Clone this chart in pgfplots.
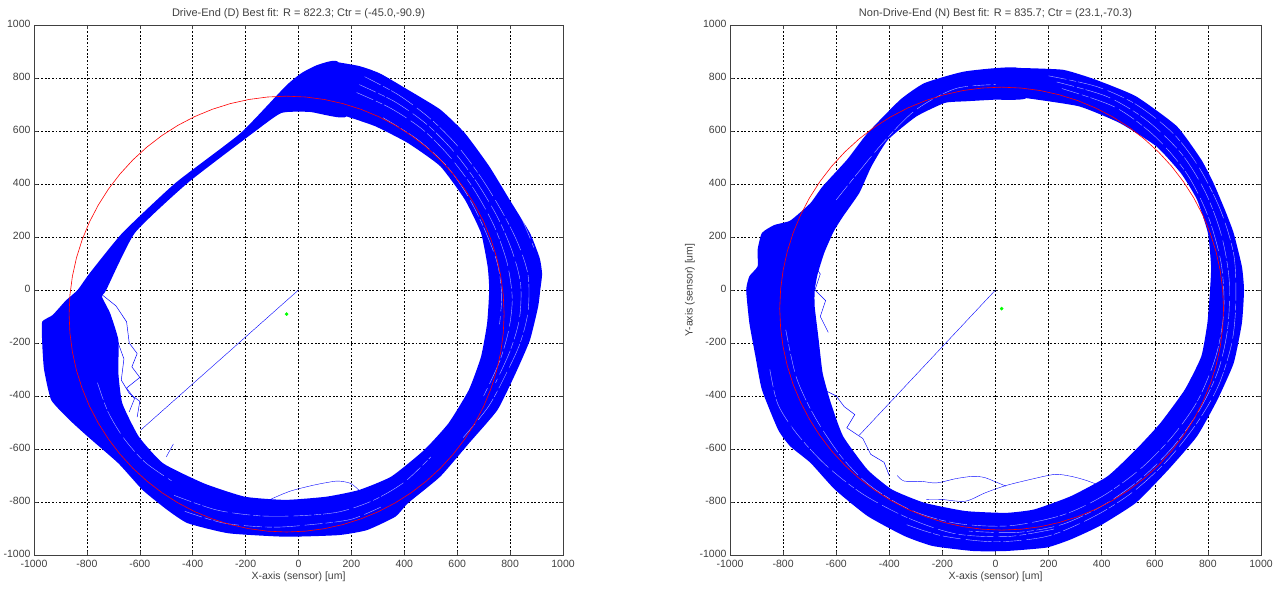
\documentclass[border=0pt]{standalone}
\usepackage{pgfplots}
\pgfplotsset{compat=1.18}
\usepackage{fontspec}
\setmainfont{Liberation Sans}

\definecolor{mblue}{RGB}{0,0,255}
\definecolor{mred}{RGB}{255,0,0}
\definecolor{mgreen}{RGB}{0,255,0}
\definecolor{mgray}{RGB}{64,64,64}

\pgfplotsset{
  orbit/.style={
    scale only axis,
    width=529pt, height=530pt,
    xmin=-1000, xmax=1000, ymin=-1000, ymax=1000,
    xtick={-1000,-800,...,1000}, ytick={-1000,-800,...,1000},
    tick align=inside, major tick length=4pt,
    tick style={mgray, line width=0.5pt},
    axis line style={mgray, line width=0.8pt},
    grid=major,
    major grid style={black, line width=0.5pt, dash pattern=on 1.8pt off 1.8pt},
    /pgf/number format/assume math mode=true,
    /pgf/number format/set thousands separator={},
    ticklabel style={font=\fontsize{10.5}{12}\selectfont, text=mgray},
    xticklabel style={yshift=-1.5pt},
    yticklabel style={yshift=1pt},
    label style={font=\fontsize{10.5}{12}\selectfont, text=mgray},
    title style={font=\fontsize{11}{13}\selectfont, text=mgray, yshift=-3pt},
    xlabel={X-axis (sensor) [um]},
    xlabel style={yshift=2pt},
  },
  band/.style={draw=none, fill=mblue, smooth, tension=0.3},
  streak/.style={white, opacity=0.7, line width=0.4pt, smooth,
    dash pattern=on 18pt off 3pt on 7pt off 2pt on 26pt off 5pt},
  trace/.style={mblue, line width=0.5pt},
  fit/.style={mred, line width=0.6pt},
}

\begin{document}
\begin{tikzpicture}
\path (0,0) rectangle (1277pt,592pt);

% ---------- Drive-End ----------
\begin{axis}[orbit, at={(34pt,37pt)}, anchor=south west,
  title={Drive-End (D) Best fit: R = 822.3; Ctr = (-45.0,-90.9)}]
% orbit band: outer edge clockwise, inner edge counter-clockwise
\addplot[band] coordinates {
 (151,859) (230,845) (305,819) (413,756) (536,681) (629,592) (721,467) (798,341)
 (875,215) (912,120) (921,60) (914,0) (906,-63) (875,-189) (821,-314) (752,-453)
 (644,-579) (536,-704) (413,-805) (367,-855) (259,-906) (151,-925) (-49,-931)
 (-265,-918) (-419,-880) (-496,-830) (-589,-755) (-681,-654) (-797,-553) (-866,-490)
 (-935,-415) (-962,-300) (-969,-200) (-969,-120) (-930,-95) (-880,-40) (-835,0)
 (-789,64) (-666,215) (-465,404) (-219,592) (-49,769) (12,819) (74,850) (151,859)
 (182,655) (43,672) (-65,668) (-173,592) (-419,404) (-619,215) (-727,0) (-743,-25)
 (-712,-88) (-681,-189) (-681,-314) (-666,-428) (-604,-553) (-512,-654) (-357,-730)
 (-203,-780) (-49,-792) (105,-780) (228,-755) (351,-704) (475,-604) (567,-503)
 (644,-377) (690,-252) (713,-126) (721,0) (715,89) (690,215) (629,341) (536,467)
 (413,555) (290,618) (182,655)
};
% gaps between the individual revolutions
\addplot[streak] coordinates {
 (250,805) (380,735) (500,645) (600,545) (690,425) (770,295) (830,175) (868,55)
 (868,-80) (838,-200) (788,-310) (718,-440) (620,-560)
};
\addplot[streak] coordinates {
 (230,775) (365,710) (485,625) (585,525) (675,405) (755,270) (810,140) (840,20)
 (835,-110) (800,-230) (745,-350)
};
\addplot[streak] coordinates {
 (220,745) (350,685) (470,605) (570,505) (660,385) (738,245) (788,105) (808,-30)
 (795,-150) (760,-270) (700,-400)
};
\addplot[streak] coordinates {
 (320,650) (450,568) (560,468) (640,355) (702,232) (752,100) (768,-20) (760,-130)
};
\addplot[streak] coordinates {
 (280,830) (420,770) (560,680) (660,570) (750,440) (830,300) (890,160)
};
\addplot[streak] coordinates {
 (-430,-835) (-280,-880) (-100,-895) (50,-885) (200,-865) (320,-815)
};
\addplot[streak] coordinates {
 (-470,-775) (-310,-830) (-150,-852) (0,-852) (150,-838) (280,-795) (400,-725) (500,-630)
};
\addplot[streak] coordinates {
 (-760,-350) (-720,-460) (-660,-560) (-580,-650) (-480,-720)
};
% loose wisps on the inner edge
\addplot[trace] coordinates {
 (-740,-20) (-690,-60) (-650,-120) (-640,-200) (-610,-240) (-630,-290) (-600,-330)
 (-650,-370) (-620,-410) (-640,-460)
};
\addplot[trace] coordinates {
 (-700,-150) (-660,-260) (-670,-340) (-640,-390) (-600,-420) (-610,-480)
};
% stray transients
\addplot[trace, line width=0.4pt] coordinates {(0,0) (-596,-528)};
\addplot[trace, line width=0.4pt] coordinates {(-500,-630) (-473,-581)};
\addplot[trace, line width=0.4pt, smooth] coordinates {
 (-126,-799) (-60,-770) (-18,-755) (50,-738) (105,-727) (151,-721) (197,-730) (228,-755)
};
% best-fit circle
\addplot[fit] coordinates {
 (777.3,-90.9) (774.2,-19.2) (764.8,51.9) (749.3,121.9) (727.7,190.3) (700.3,256.6)
 (667.1,320.3) (628.6,380.8) (584.9,437.7) (536.5,490.6) (483.6,539.0) (426.7,582.7)
 (366.2,621.2) (302.5,654.4) (236.2,681.8) (167.8,703.4) (97.8,718.9) (26.7,728.3)
 (-45,731.4) (-116.7,728.3) (-187.8,718.9) (-257.8,703.4) (-326.2,681.8) (-392.5,654.4)
 (-456.2,621.2) (-516.7,582.7) (-573.6,539.0) (-626.5,490.6) (-674.9,437.7) (-718.6,380.8)
 (-757.1,320.3) (-790.3,256.6) (-817.7,190.3) (-839.3,121.9) (-854.8,51.9) (-864.2,-19.2)
 (-867.3,-90.9) (-864.2,-162.6) (-854.8,-233.7) (-839.3,-303.7) (-817.7,-372.1)
 (-790.3,-438.4) (-757.1,-502.1) (-718.6,-562.6) (-674.9,-619.5) (-626.5,-672.4)
 (-573.6,-720.8) (-516.7,-764.5) (-456.2,-803.0) (-392.5,-836.2) (-326.2,-863.6)
 (-257.8,-885.2) (-187.8,-900.7) (-116.7,-910.1) (-45,-913.2) (26.7,-910.1) (97.8,-900.7)
 (167.8,-885.2) (236.2,-863.6) (302.5,-836.2) (366.2,-803.0) (426.7,-764.5) (483.6,-720.8)
 (536.5,-672.4) (584.9,-619.5) (628.6,-562.6) (667.1,-502.1) (700.3,-438.4) (727.7,-372.1)
 (749.3,-303.7) (764.8,-233.7) (774.2,-162.6) (777.3,-90.9)
};
\addplot[only marks, mark=*, mark size=1.6pt, mgreen] coordinates {(-45.0,-90.9)};
\end{axis}

% ---------- Non-Drive-End ----------
\begin{axis}[orbit, width=531pt, at={(730pt,37pt)}, anchor=south west,
  title={Non-Drive-End (N) Best fit: R = 835.7; Ctr = (23.1,-70.3)},
  ylabel={Y-axis (sensor) [um]}, ylabel style={yshift=-2pt}]
\addplot[band] coordinates {
 (85,838) (254,831) (376,794) (529,731) (683,618) (775,492) (821,404) (865,300)
 (897,215) (928,89) (936,0) (928,-125) (897,-276) (836,-414) (759,-552) (652,-677)
 (529,-803) (391,-891) (284,-941) (192,-972) (39,-985) (-84,-985) (-237,-966)
 (-344,-928) (-482,-853) (-605,-753) (-697,-652) (-773,-590) (-819,-527) (-880,-376)
 (-904,-251) (-927,-125) (-939,0) (-927,52) (-896,89) (-896,152) (-880,215)
 (-834,245) (-773,262) (-697,328) (-651,391) (-559,492) (-482,592) (-359,718)
 (-267,781) (-114,825) (85,838)
 (116,724) (-7,718) (-114,712) (-191,706) (-298,655) (-405,567) (-467,467)
 (-513,366) (-574,278) (-610,220) (-645,140) (-670,60) (-681,0) (-681,-63) (-666,-188)
 (-651,-314) (-620,-427) (-574,-552) (-482,-678) (-390,-753) (-268,-803) (-114,-834)
 (39,-841) (146,-828) (284,-778) (422,-703) (529,-602) (621,-502) (713,-376)
 (775,-251) (798,-125) (808,0) (812,89) (800,215) (759,341) (698,441) (606,542)
 (468,630) (315,693) (116,724)
};
\addplot[streak] coordinates {
 (200,808) (380,768) (530,700) (670,590) (768,460) (848,300) (898,130) (905,-50)
 (890,-200) (840,-360) (760,-500) (650,-640) (520,-760) (380,-850) (200,-928)
 (0,-950) (-200,-928) (-350,-880)
};
\addplot[streak] coordinates {
 (230,785) (420,730) (570,640) (700,515) (790,370) (850,210) (880,40) (875,-140)
 (840,-300) (770,-450) (670,-590) (550,-710) (410,-810) (250,-885) (80,-915)
 (-100,-910)
};
\addplot[streak] coordinates {
 (250,760) (450,690) (600,580) (720,440) (800,280) (850,100) (860,-80) (830,-250)
 (760,-420) (660,-560) (540,-680) (400,-780) (250,-850) (50,-890) (-150,-880)
 (-320,-830) (-470,-740) (-580,-630) (-680,-480) (-750,-330) (-790,-150)
};
\addplot[streak] coordinates {
 (-850,-300) (-820,-430) (-750,-540) (-640,-660) (-500,-770) (-330,-860) (-150,-920)
 (50,-930) (230,-900)
};
\addplot[streak] coordinates {
 (-600,340) (-520,440) (-420,560) (-300,680) (-150,760) (0,775)
};
\addplot[trace] coordinates {
 (-700,120) (-660,60) (-680,0) (-640,-40) (-660,-100) (-630,-160)
};
\addplot[trace] coordinates {
 (-640,-380) (-600,-400) (-570,-440) (-530,-470) (-560,-520) (-500,-560) (-470,-620)
 (-420,-650) (-400,-700)
};
\addplot[trace] coordinates {
 (-760,-500) (-780,-540) (-740,-580) (-700,-560)
};
\addplot[trace, line width=0.4pt] coordinates {(0,0) (-513,-548)};
\addplot[trace, line width=0.4pt, smooth] coordinates {
 (-370,-700) (-344,-721) (-280,-722) (-222,-728) (-150,-712) (-84,-703) (-40,-708)
 (-7,-721) (39,-740)
};
\addplot[trace, line width=0.4pt, smooth] coordinates {
 (-260,-790) (-206,-790) (-114,-797) (-38,-765) (39,-738) (131,-715) (223,-696)
 (284,-703) (340,-718) (399,-740)
};
\addplot[fit] coordinates {
 (858.8,-70.3) (855.6,2.5) (846.1,74.8) (830.3,146.0) (808.4,215.5) (780.5,282.9)
 (746.8,347.6) (707.7,409.0) (663.3,466.9) (614.0,520.6) (560.3,569.9) (502.4,614.3)
 (441.0,653.4) (376.3,687.1) (308.9,715.0) (239.4,736.9) (168.2,752.7) (95.9,762.2)
 (23.1,765.4) (-49.7,762.2) (-122.0,752.7) (-193.2,736.9) (-262.7,715.0) (-330.1,687.1)
 (-394.8,653.4) (-456.2,614.3) (-514.1,569.9) (-567.8,520.6) (-617.1,466.9) (-661.5,409.0)
 (-700.6,347.6) (-734.3,282.9) (-762.2,215.5) (-784.1,146.0) (-799.9,74.8) (-809.4,2.5)
 (-812.6,-70.3) (-809.4,-143.1) (-799.9,-215.4) (-784.1,-286.6) (-762.2,-356.1)
 (-734.3,-423.5) (-700.6,-488.2) (-661.5,-549.6) (-617.1,-607.5) (-567.8,-661.2)
 (-514.1,-710.5) (-456.2,-754.9) (-394.8,-794.0) (-330.1,-827.7) (-262.7,-855.6)
 (-193.2,-877.5) (-122.0,-893.3) (-49.7,-902.8) (23.1,-906.0) (95.9,-902.8) (168.2,-893.3)
 (239.4,-877.5) (308.9,-855.6) (376.3,-827.7) (441.0,-794.0) (502.4,-754.9) (560.3,-710.5)
 (614.0,-661.2) (663.3,-607.5) (707.7,-549.6) (746.8,-488.2) (780.5,-423.5) (808.4,-356.1)
 (830.3,-286.6) (846.1,-215.4) (855.6,-143.1) (858.8,-70.3)
};
\addplot[only marks, mark=*, mark size=1.6pt, mgreen] coordinates {(23.1,-70.3)};
\end{axis}
\end{tikzpicture}
\end{document}
